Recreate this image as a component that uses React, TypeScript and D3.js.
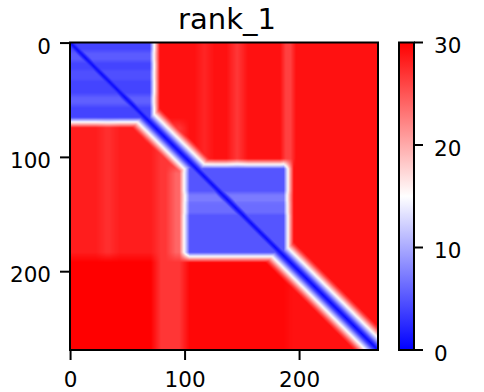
import * as d3 from "d3";
import { useEffect, useRef } from "react";

// number of residues on each axis
const N = 269;
const title = "rank_1";
const axisTicks = [0, 100, 200];
const colorTicks = [0, 10, 20, 30];

// predicted aligned error per rectangle: [rowStart, rowEnd, colStart, colEnd, pae]
// later rectangles override earlier ones
const regions: [number, number, number, number, number][] = [
    [0, 269, 0, 269, 29],
    [70, 188, 0, 75, 28.3],
    [70, 269, 75, 100, 26.8],
    [110, 188, 88, 100, 24],
    [188, 269, 0, 75, 30],
    [188, 269, 100, 190, 29.6],
    [70, 188, 27, 39, 27.3],
    [0, 106, 141, 151, 26.8],
    [0, 106, 113, 122, 27.8],
    [0, 106, 188, 193, 24],
    [0, 70, 0, 74, 4],
    [10, 14, 0, 74, 7],
    [27, 30, 0, 74, 6],
    [48, 53, 0, 74, 7],
    [106, 188, 100, 191, 5],
    [134, 138, 100, 191, 10],
    [144, 147, 100, 191, 9],
];

// error vs distance from the diagonal |i - j|
const diagProfile = [0.5, 1.5, 2.5, 3.5, 5, 6.5, 8, 9.5, 11, 12.5, 14, 15.5, 17, 18.5, 20, 21.5, 23, 24.5, 26, 27, 28, 29, 30];

const App = () => {
    const imgRef = useRef<SVGImageElement | null>(null);

    const width = 484, height = 392;
    const left = 70, right = 378, top = 42.5, bottom = 350;
    const cbLeft = 399, cbRight = 414;

    const x = d3.scaleLinear().domain([-0.5, N - 0.5]).range([left, right]);
    const y = d3.scaleLinear().domain([-0.5, N - 0.5]).range([top, bottom]);
    const cy = d3.scaleLinear().domain([0, 30]).range([bottom, top]);
    const bwr = d3.scaleLinear<string>().domain([0, 15, 30]).range(["#0000ff", "#ffffff", "#ff0000"]).clamp(true);

    useEffect(() => {
        // region map
        let m = new Float32Array(N * N);
        for (let i = 0; i < N; i++) {
            for (let j = 0; j < N; j++) {
                let v = 30;
                for (const [r0, r1, c0, c1, p] of regions) {
                    if (i >= r0 && i < r1 && j >= c0 && j < c1) v = p;
                }
                m[i * N + j] = v;
            }
        }
        // soften block edges (box filter) so blue and red meet through white
        const R = 4;
        const tmp = new Float32Array(N * N);
        for (let i = 0; i < N; i++) for (let j = 0; j < N; j++) {
            let s = 0, n = 0;
            for (let k = -R; k <= R; k++) { const jj = j + k; if (jj >= 0 && jj < N) { s += m[i * N + jj]; n++; } }
            tmp[i * N + j] = s / n;
        }
        const out = new Float32Array(N * N);
        for (let i = 0; i < N; i++) for (let j = 0; j < N; j++) {
            let s = 0, n = 0;
            for (let k = -R; k <= R; k++) { const ii = i + k; if (ii >= 0 && ii < N) { s += tmp[ii * N + j]; n++; } }
            out[i * N + j] = s / n;
        }
        m = out;

        const small = document.createElement("canvas");
        small.width = N; small.height = N;
        const sctx = small.getContext("2d")!;
        const img = sctx.createImageData(N, N);
        for (let i = 0; i < N; i++) {
            for (let j = 0; j < N; j++) {
                let v = m[i * N + j];
                const d = Math.abs(i - j);
                if (d < diagProfile.length) v = Math.min(v, diagProfile[d]);
                const c = d3.rgb(bwr(v));
                const k = (i * N + j) * 4;
                img.data[k] = c.r; img.data[k + 1] = c.g; img.data[k + 2] = c.b; img.data[k + 3] = 255;
            }
        }
        sctx.putImageData(img, 0, 0);

        const w = Math.round(right - left), h = Math.round(bottom - top);
        const big = document.createElement("canvas");
        big.width = w; big.height = h;
        const ctx = big.getContext("2d")!;
        ctx.imageSmoothingEnabled = true;
        ctx.drawImage(small, 0, 0, w, h);
        if (imgRef.current) imgRef.current.setAttribute("href", big.toDataURL());
    }, []);

    const font = "'DejaVu Sans', sans-serif";

    return (
        <svg width={width} height={height} style={{ position: "absolute", left: 0, top: 0 }} fontFamily={font}>
            <defs>
                <linearGradient id="cb" x1="0" y1="1" x2="0" y2="0">
                    {[0, 15, 30].map(v => <stop key={v} offset={v / 30} stopColor={bwr(v)} />)}
                </linearGradient>
            </defs>
            <rect width={width} height={height} fill="#fff" />
            <text x={(left + right) / 2 + 3} y={29} textAnchor="middle" fontSize={29}>{title}</text>

            <image ref={imgRef} x={left} y={top} width={right - left} height={bottom - top} preserveAspectRatio="none" />
            <rect x={left} y={top} width={right - left} height={bottom - top} fill="none" stroke="#000" strokeWidth={2} />

            {axisTicks.map(t => (
                <g key={"y" + t}>
                    <line x1={left - 10} x2={left} y1={y(t)} y2={y(t)} stroke="#000" strokeWidth={2} />
                    <text x={left - 19} y={y(t) + 10.5} textAnchor="end" fontSize={21.5}>{t}</text>
                </g>
            ))}
            {axisTicks.map(t => (
                <g key={"x" + t}>
                    <line x1={x(t)} x2={x(t)} y1={bottom} y2={bottom + 10} stroke="#000" strokeWidth={2} />
                    <text x={x(t)} y={387} textAnchor="middle" fontSize={21.5}>{t}</text>
                </g>
            ))}

            <rect x={cbLeft} y={top} width={cbRight - cbLeft} height={bottom - top} fill="url(#cb)" stroke="#000" strokeWidth={2} />
            {colorTicks.map(t => (
                <g key={"c" + t}>
                    <line x1={cbRight} x2={cbRight + 9} y1={cy(t)} y2={cy(t)} stroke="#000" strokeWidth={2} />
                    <text x={cbRight + 20} y={cy(t) + 10.5} fontSize={21.5}>{t}</text>
                </g>
            ))}
        </svg>
    );
};

export default App;
